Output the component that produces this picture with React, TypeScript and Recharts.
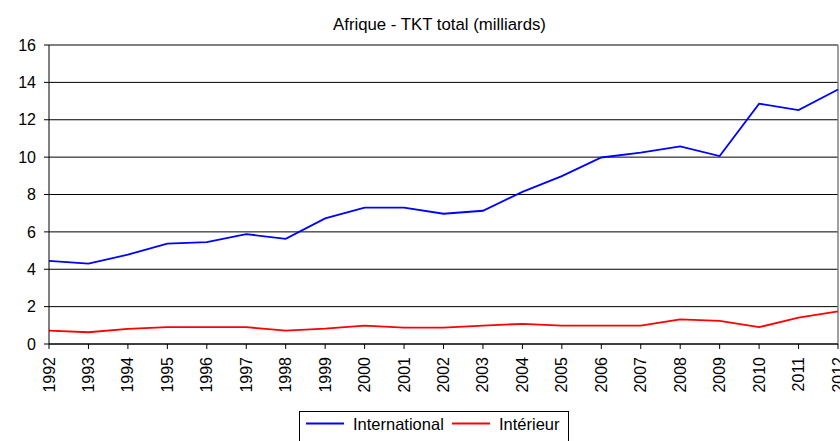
import React from "react";
import {
  LineChart,
  Line,
  XAxis,
  YAxis,
  CartesianGrid,
  ReferenceLine,
} from "recharts";

const years = [
  "1992", "1993", "1994", "1995", "1996", "1997", "1998", "1999", "2000", "2001", "2002",
  "2003", "2004", "2005", "2006", "2007", "2008", "2009", "2010", "2011", "2012",
];
const international = [
  4.45, 4.3, 4.78, 5.37, 5.45, 5.88, 5.63, 6.72, 7.3, 7.3, 6.97,
  7.13, 8.14, 8.98, 9.98, 10.24, 10.57, 10.06, 12.86, 12.52, 13.62,
];
const interieur = [
  0.72, 0.63, 0.81, 0.9, 0.9, 0.9, 0.72, 0.82, 0.98, 0.88, 0.88,
  0.98, 1.08, 0.98, 0.98, 0.98, 1.32, 1.24, 0.9, 1.41, 1.75,
];
const yTicks = [0, 2, 4, 6, 8, 10, 12, 14, 16];

const chartData = years.map((y, i) => ({
  year: y,
  international: international[i],
  interieur: interieur[i],
}));

const FONT = "'Liberation Sans', Arial, sans-serif";

const YearTick = (props: any) => {
  const { x, y, payload } = props;
  return (
    <text
      x={0}
      y={0}
      transform={`translate(${x + 5.5},${y + 6}) rotate(-90)`}
      textAnchor="end"
      fontSize={16}
      fontFamily={FONT}
      fill="#000"
    >
      {payload.value}
    </text>
  );
};

const App = () => {
  return (
    <div style={{ position: "absolute", left: 0, top: 0, width: 840, height: 441, background: "#fff", overflow: "hidden" }}>
      <LineChart
        width={840}
        height={441}
        data={chartData}
        margin={{ top: 45, right: 2, left: 0, bottom: 0 }}
      >
        <CartesianGrid vertical={false} stroke="#000" strokeWidth={1} />
        <XAxis
          dataKey="year"
          height={97}
          interval={0}
          tick={<YearTick />}
          tickSize={5}
          stroke="#000"
          tickLine={{ stroke: "#000" }}
        />
        <YAxis
          domain={[0, 16]}
          ticks={yTicks}
          width={49}
          tickSize={5}
          tickMargin={8}
          stroke="#000"
          tick={{ fill: "#000", fontSize: 16, fontFamily: FONT }}
        />
        <ReferenceLine y={16} stroke="#808080" strokeWidth={1.5} />
        <ReferenceLine x="2012" stroke="#808080" strokeWidth={1.5} />
        <Line
          type="linear"
          dataKey="international"
          stroke="#0000ff"
          strokeWidth={1.8}
          dot={false}
          isAnimationActive={false}
        />
        <Line
          type="linear"
          dataKey="interieur"
          stroke="#ff0000"
          strokeWidth={1.8}
          dot={false}
          isAnimationActive={false}
        />
      </LineChart>
      <svg
        width={840}
        height={441}
        style={{ position: "absolute", left: 0, top: 0, pointerEvents: "none" }}
      >
        <text
          x={439.5}
          y={30}
          textAnchor="middle"
          fontSize={16.8}
          fontFamily={FONT}
          fill="#000"
        >
          Afrique - TKT total (milliards)
        </text>
        <rect x={299.5} y={411.5} width={269} height={40} fill="#fff" stroke="#000" strokeWidth={1} />
        <line x1={306} x2={344} y1={423.5} y2={423.5} stroke="#0000ff" strokeWidth={1.8} />
        <text x={353} y={430} fontSize={16.5} fontFamily={FONT} fill="#000">
          International
        </text>
        <line x1={452} x2={490} y1={423.5} y2={423.5} stroke="#ff0000" strokeWidth={1.8} />
        <text x={499} y={430} fontSize={16.5} fontFamily={FONT} fill="#000">
          Intérieur
        </text>
      </svg>
    </div>
  );
};

export default App;
